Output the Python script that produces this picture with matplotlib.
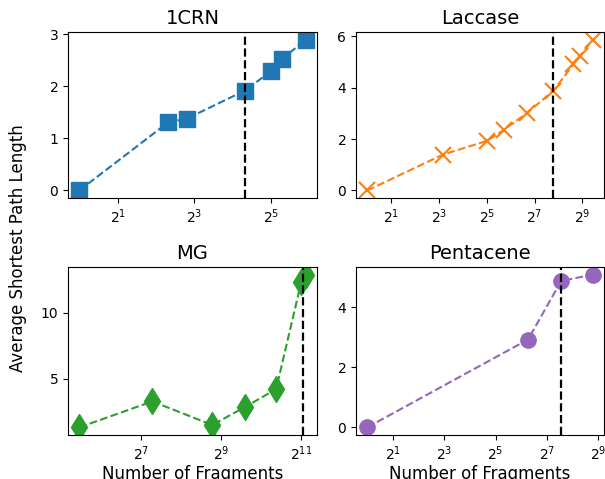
import matplotlib
matplotlib.use("Agg")
import matplotlib.pyplot as plt
from matplotlib.ticker import NullLocator

# Datos
crn_x = [1, 5, 7, 20, 32, 39, 60]
crn_y = [0.0, 1.31, 1.38, 1.92, 2.29, 2.52, 2.90]
crn_corte = 20

laccase_x = [1, 9, 32, 53, 102, 221, 395, 478, 690]
laccase_y = [0.0, 1.40, 1.93, 2.37, 3.01, 3.89, 4.92, 5.24, 5.88]
laccase_corte = 221

mg_x = [44, 156, 440, 776, 1333, 2060, 2225]
mg_y = [1.31, 3.28, 1.49, 2.85, 4.21, 12.33, 12.90]
mg_corte = 2120

pent_x = [1, 77, 189, 443]
pent_y = [0.0, 2.92, 4.87, 5.08]
pent_corte = 189

paneles = [
    ("1CRN", crn_x, crn_y, crn_corte, "C0", "s", 12, [2, 8, 32], [0, 1, 2, 3]),
    ("Laccase", laccase_x, laccase_y, laccase_corte, "C1", "x", 12, [2, 8, 32, 128, 512], [0, 2, 4, 6]),
    ("MG", mg_x, mg_y, mg_corte, "C2", "d", 13, [128, 512, 2048], [5, 10]),
    ("Pentacene", pent_x, pent_y, pent_corte, "C4", "o", 11, [2, 8, 32, 128, 512], [0, 2, 4]),
]

# Posiciones de los ejes (fracciones de la figura)
posiciones = [
    [68 / 605, 1 - 198 / 479, 249 / 605, 166 / 479],
    [356 / 605, 1 - 198 / 479, 248 / 605, 166 / 479],
    [68 / 605, 1 - 435 / 479, 249 / 605, 168 / 479],
    [356 / 605, 1 - 435 / 479, 248 / 605, 168 / 479],
]

fig = plt.figure(figsize=(6.05, 4.79), dpi=100)

for i, (titulo, x, y, corte, color, marca, ms, xt, yt) in enumerate(paneles):
    ax = fig.add_axes(posiciones[i])
    ax.plot(x, y, linestyle="--", marker=marca, color=color, markersize=ms,
            markeredgewidth=1.5 if marca == "x" else 1.0, lw=1.5)
    ax.set_xscale("log", base=2)
    ax.axvline(corte, color="black", linestyle="--", lw=1.6)
    ax.set_xticks(xt)
    ax.xaxis.set_minor_locator(NullLocator())
    ax.set_yticks(yt)
    ax.tick_params(labelsize=10)
    ax.set_title(titulo, fontsize=14)
    if i >= 2:
        ax.set_xlabel("Number of Fragments", fontsize=12, labelpad=1)

fig.text(18 / 605, 0.483, "Average Shortest Path Length", rotation=90,
         ha="center", va="center", fontsize=12)

fig.savefig("out.png", dpi=100)
